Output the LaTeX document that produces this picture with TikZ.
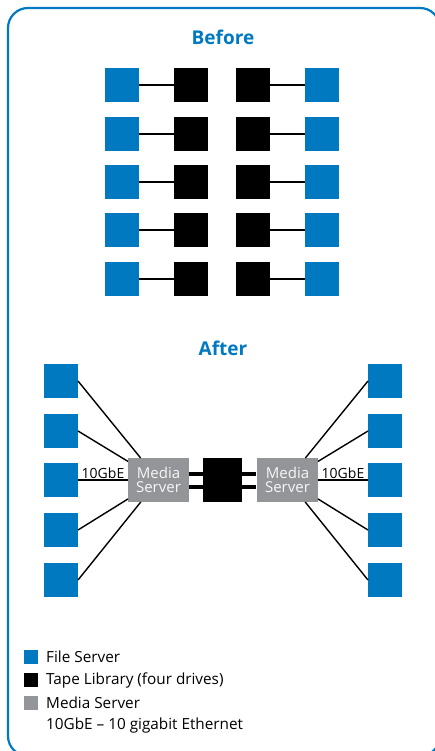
\documentclass[tikz,border=0pt]{standalone}
\usepackage{fontspec}
\setmainfont{Open Sans}
\definecolor{iblue}{HTML}{0079C1}
\definecolor{igray}{HTML}{939598}
\begin{document}
\begin{tikzpicture}[x=1pt,y=-1pt,
  fs/.style={fill=iblue,minimum size=34pt,inner sep=0pt,outer sep=0pt},
  tl/.style={fill=black,minimum size=34pt,inner sep=0pt,outer sep=0pt},
  ms/.style={fill=igray,text=white!92!igray,minimum width=61pt,minimum height=44pt,inner sep=0pt,outer sep=0pt,font=\fontsize{15}{15}\selectfont,align=center},
  wire/.style={draw=black,line width=1.4pt},
  thick wire/.style={draw=black,line width=4pt},
  title/.style={text=iblue,font=\fontsize{19}{19}\selectfont\bfseries},
  leg/.style={minimum size=14pt,inner sep=0pt},
  legtext/.style={anchor=west,font=\fontsize{15.3}{15.3}\selectfont,inner sep=0pt},
  gbe/.style={above,font=\fontsize{14}{14}\selectfont,inner sep=1pt}
]
\useasboundingbox (0,0) rectangle (435,751);
\draw[iblue,line width=2.2pt,rounded corners=20pt] (8,8) rectangle (440,756);
\node[title] (before) at (223,37) {Before};
% Before rows
\foreach \i/\y in {1/85,2/134,3/182,4/230,5/279}{
  \node[fs] (bl\i) at (122,\y) {};
  \node[tl] (tl\i) at (191,\y) {};
  \node[tl] (tr\i) at (253,\y) {};
  \node[fs] (br\i) at (322,\y) {};
  \draw[wire] (bl\i) -- (tl\i);
  \draw[wire] (tr\i) -- (br\i);
}
\node[title] (after) at (223,348) {After};
\node[ms] (msl) at (158.5,480) {Media\\[-1pt]Server};
\node[ms] (msr) at (287.5,480) {Media\\[-1pt]Server};
\node[fill=black,minimum width=39pt,minimum height=44pt,inner sep=0pt] (tape) at (222.5,480) {};
\coordinate (msla) at (189,473.5);
\coordinate (mslb) at (189,486.5);
\coordinate (ta) at (203,473.5);
\coordinate (tb) at (203,486.5);
\coordinate (tc) at (242,473.5);
\coordinate (td) at (242,486.5);
\coordinate (msra) at (256,473.5);
\coordinate (msrb) at (256,486.5);
\draw[thick wire] (msla) -- (ta);
\draw[thick wire] (mslb) -- (tb);
\draw[thick wire] (tc) -- (msra);
\draw[thick wire] (td) -- (msrb);
\foreach \i/\y in {1/381,2/431,3/480,4/530,5/580}{
  \node[fs] (al\i) at (61,\y) {};
  \node[fs] (ar\i) at (385,\y) {};
}
\draw[wire] (al1.east) -- (msl);
\draw[wire] (al2.east) -- (msl);
\draw[wire] (al3.east) -- node[gbe] {10GbE} (msl.west);
\draw[wire] (al4.east) -- (msl);
\draw[wire] (al5.east) -- (msl);
\draw[wire] (ar1.west) -- (msr);
\draw[wire] (ar2.west) -- (msr);
\draw[wire] (ar3.west) -- node[gbe] {10GbE} (msr.east);
\draw[wire] (ar4.west) -- (msr);
\draw[wire] (ar5.west) -- (msr);
% legend
\node[leg,fill=iblue] (l1) at (31,657) {};
\node[leg,fill=black] (l2) at (31,680) {};
\node[leg,fill=igray] (l3) at (31,703) {};
\node[legtext] (t1) at (46,657) {File Server};
\node[legtext] (t2) at (46,680) {Tape Library (four drives)};
\node[legtext] (t3) at (46,703) {Media Server};
\node[legtext] (t4) at (46,726) {10GbE – 10 gigabit Ethernet};
\end{tikzpicture}
\end{document}
